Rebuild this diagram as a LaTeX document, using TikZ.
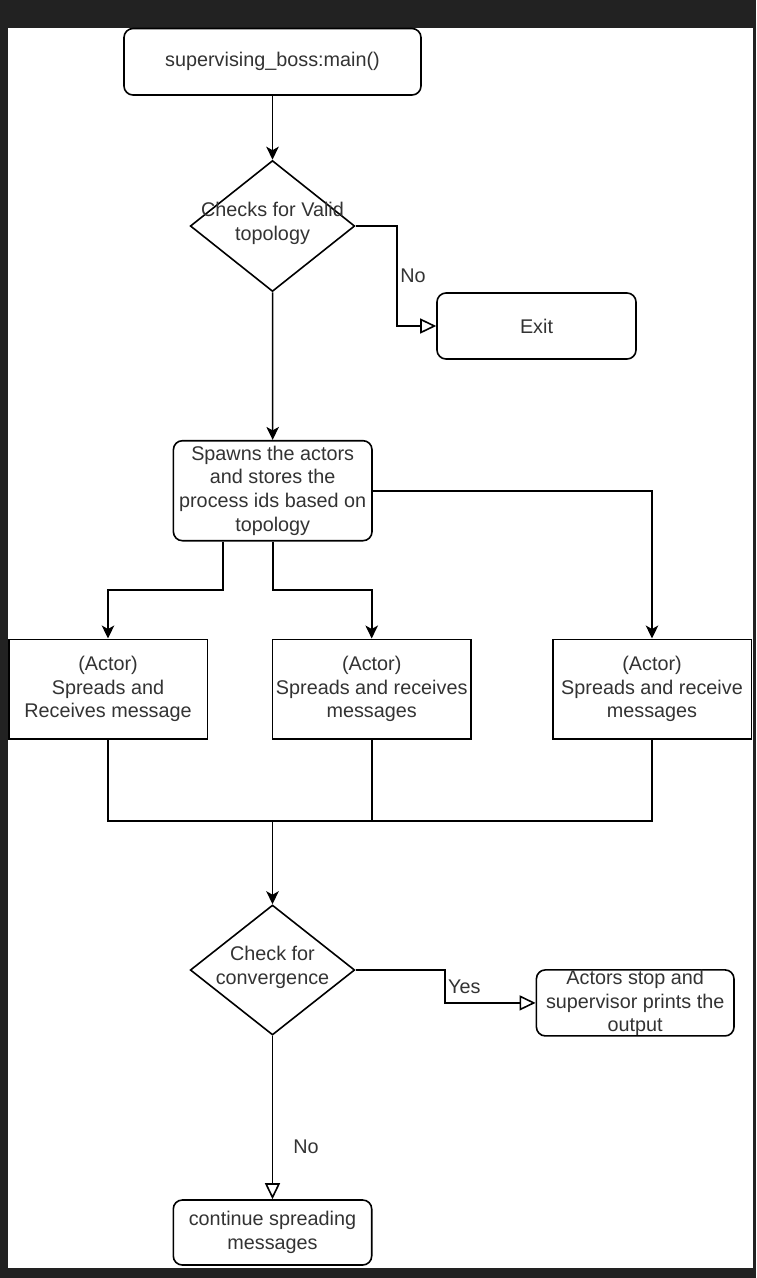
\documentclass[tikz,border=0pt]{standalone}
\usepackage{fontspec}
\setmainfont{Liberation Sans}
\usetikzlibrary{shapes.geometric,arrows.meta}
\definecolor{frame}{HTML}{222222}
\definecolor{ink}{HTML}{333333}
\begin{document}
\begin{tikzpicture}[x=1pt,y=-1pt,
  every node/.style={font=\fontsize{19.8}{23.8}\selectfont, text=ink},
  base/.style={draw=black, line width=1.6pt, fill=white, inner sep=0pt, align=center},
  roundbox/.style={base, rectangle, rounded corners=9pt},
  actorbox/.style={base, rectangle, minimum width=198.6pt, minimum height=99.4pt},
  decision/.style={base, diamond, minimum width=164.5pt, minimum height=131pt},
  flow/.style={draw=black, line width=1.6pt, -{Stealth[length=13pt,width=12.5pt,inset=3.5pt]}},
  branch/.style={draw=black, line width=1.6pt, -{Triangle[open,length=16pt,width=15pt]}},
  plain/.style={draw=black, line width=1.6pt},
  tag/.style={inner sep=0pt, align=center}
]
\useasboundingbox (0,0) rectangle (756,1278);
% window frame and canvas
\fill[frame] (0,0) rectangle (756,1278);
\fill[white] (8,28) rectangle (752.5,1267.5);

% nodes
\node[roundbox, minimum width=297pt, minimum height=66.5pt] (start) at (272.5,61.75) {supervising\_boss:main()};
\node[decision] (d1) at (272.5,226) {};
\node[tag] (d1text) at (272.5,223) {Checks for Valid\\topology};
\node[roundbox, minimum width=199pt, minimum height=66pt] (exit) at (536.5,326) {Exit};
\node[roundbox, minimum width=198.6pt, minimum height=100pt] (spawn) at (272.7,490.7)
  {Spawns the actors\\and stores the\\process ids based on\\topology};
\node[actorbox] (A1) at (108,689) {(Actor)\\Spreads and\\Receives message};
\node[actorbox] (A2) at (371.7,689) {(Actor)\\Spreads and receives\\messages};
\node[actorbox] (A3) at (652,689) {(Actor)\\Spreads and receive\\messages};
\node[decision, minimum height=130pt] (d2) at (272.5,970) {};
\node[tag] (d2text) at (272.5,967) {Check for\\convergence};
\node[roundbox, minimum width=197.6pt, minimum height=65.7pt] (result) at (635.2,1002.9)
  {Actors stop and\\supervisor prints the\\output};
\node[roundbox, minimum width=198.4pt, minimum height=65pt] (cont) at (272.5,1232.5)
  {continue spreading\\messages};

% routing points
\coordinate (nok) at (396.7,226);
\coordinate (tapL) at (222.7,590);
\coordinate (join) at (272.5,821);
\coordinate (yesk) at (445.2,970);

% connectors
\draw[flow] (start) -- (d1);
\draw[branch] (d1.east) -- (nok) |- (exit.west);
\draw[flow] (d1) -- (spawn);
\draw[flow] (spawn.east) -| (A3.north);
\draw[flow] (spawn.south -| tapL) -- (tapL) -| (A1.north);
\draw[flow] (spawn.south) -- (spawn.south |- tapL) -| (A2.north);
\draw[plain] (A1.south) |- (join);
\draw[plain] (A3.south) |- (join);
\draw[plain] (A2.south) |- (join);
\draw[flow] (join) -- (d2.north);
\draw[branch] (d2.east) -- (yesk) |- (result.west);
\draw[branch] (d2) -- (cont);

% edge labels
\node[tag] (nolab1) at (413,276) {No};
\node[tag, anchor=west] (yeslab) at (448,986.7) {Yes};
\node[tag] (nolab2) at (306,1146.7) {No};
\end{tikzpicture}
\end{document}
